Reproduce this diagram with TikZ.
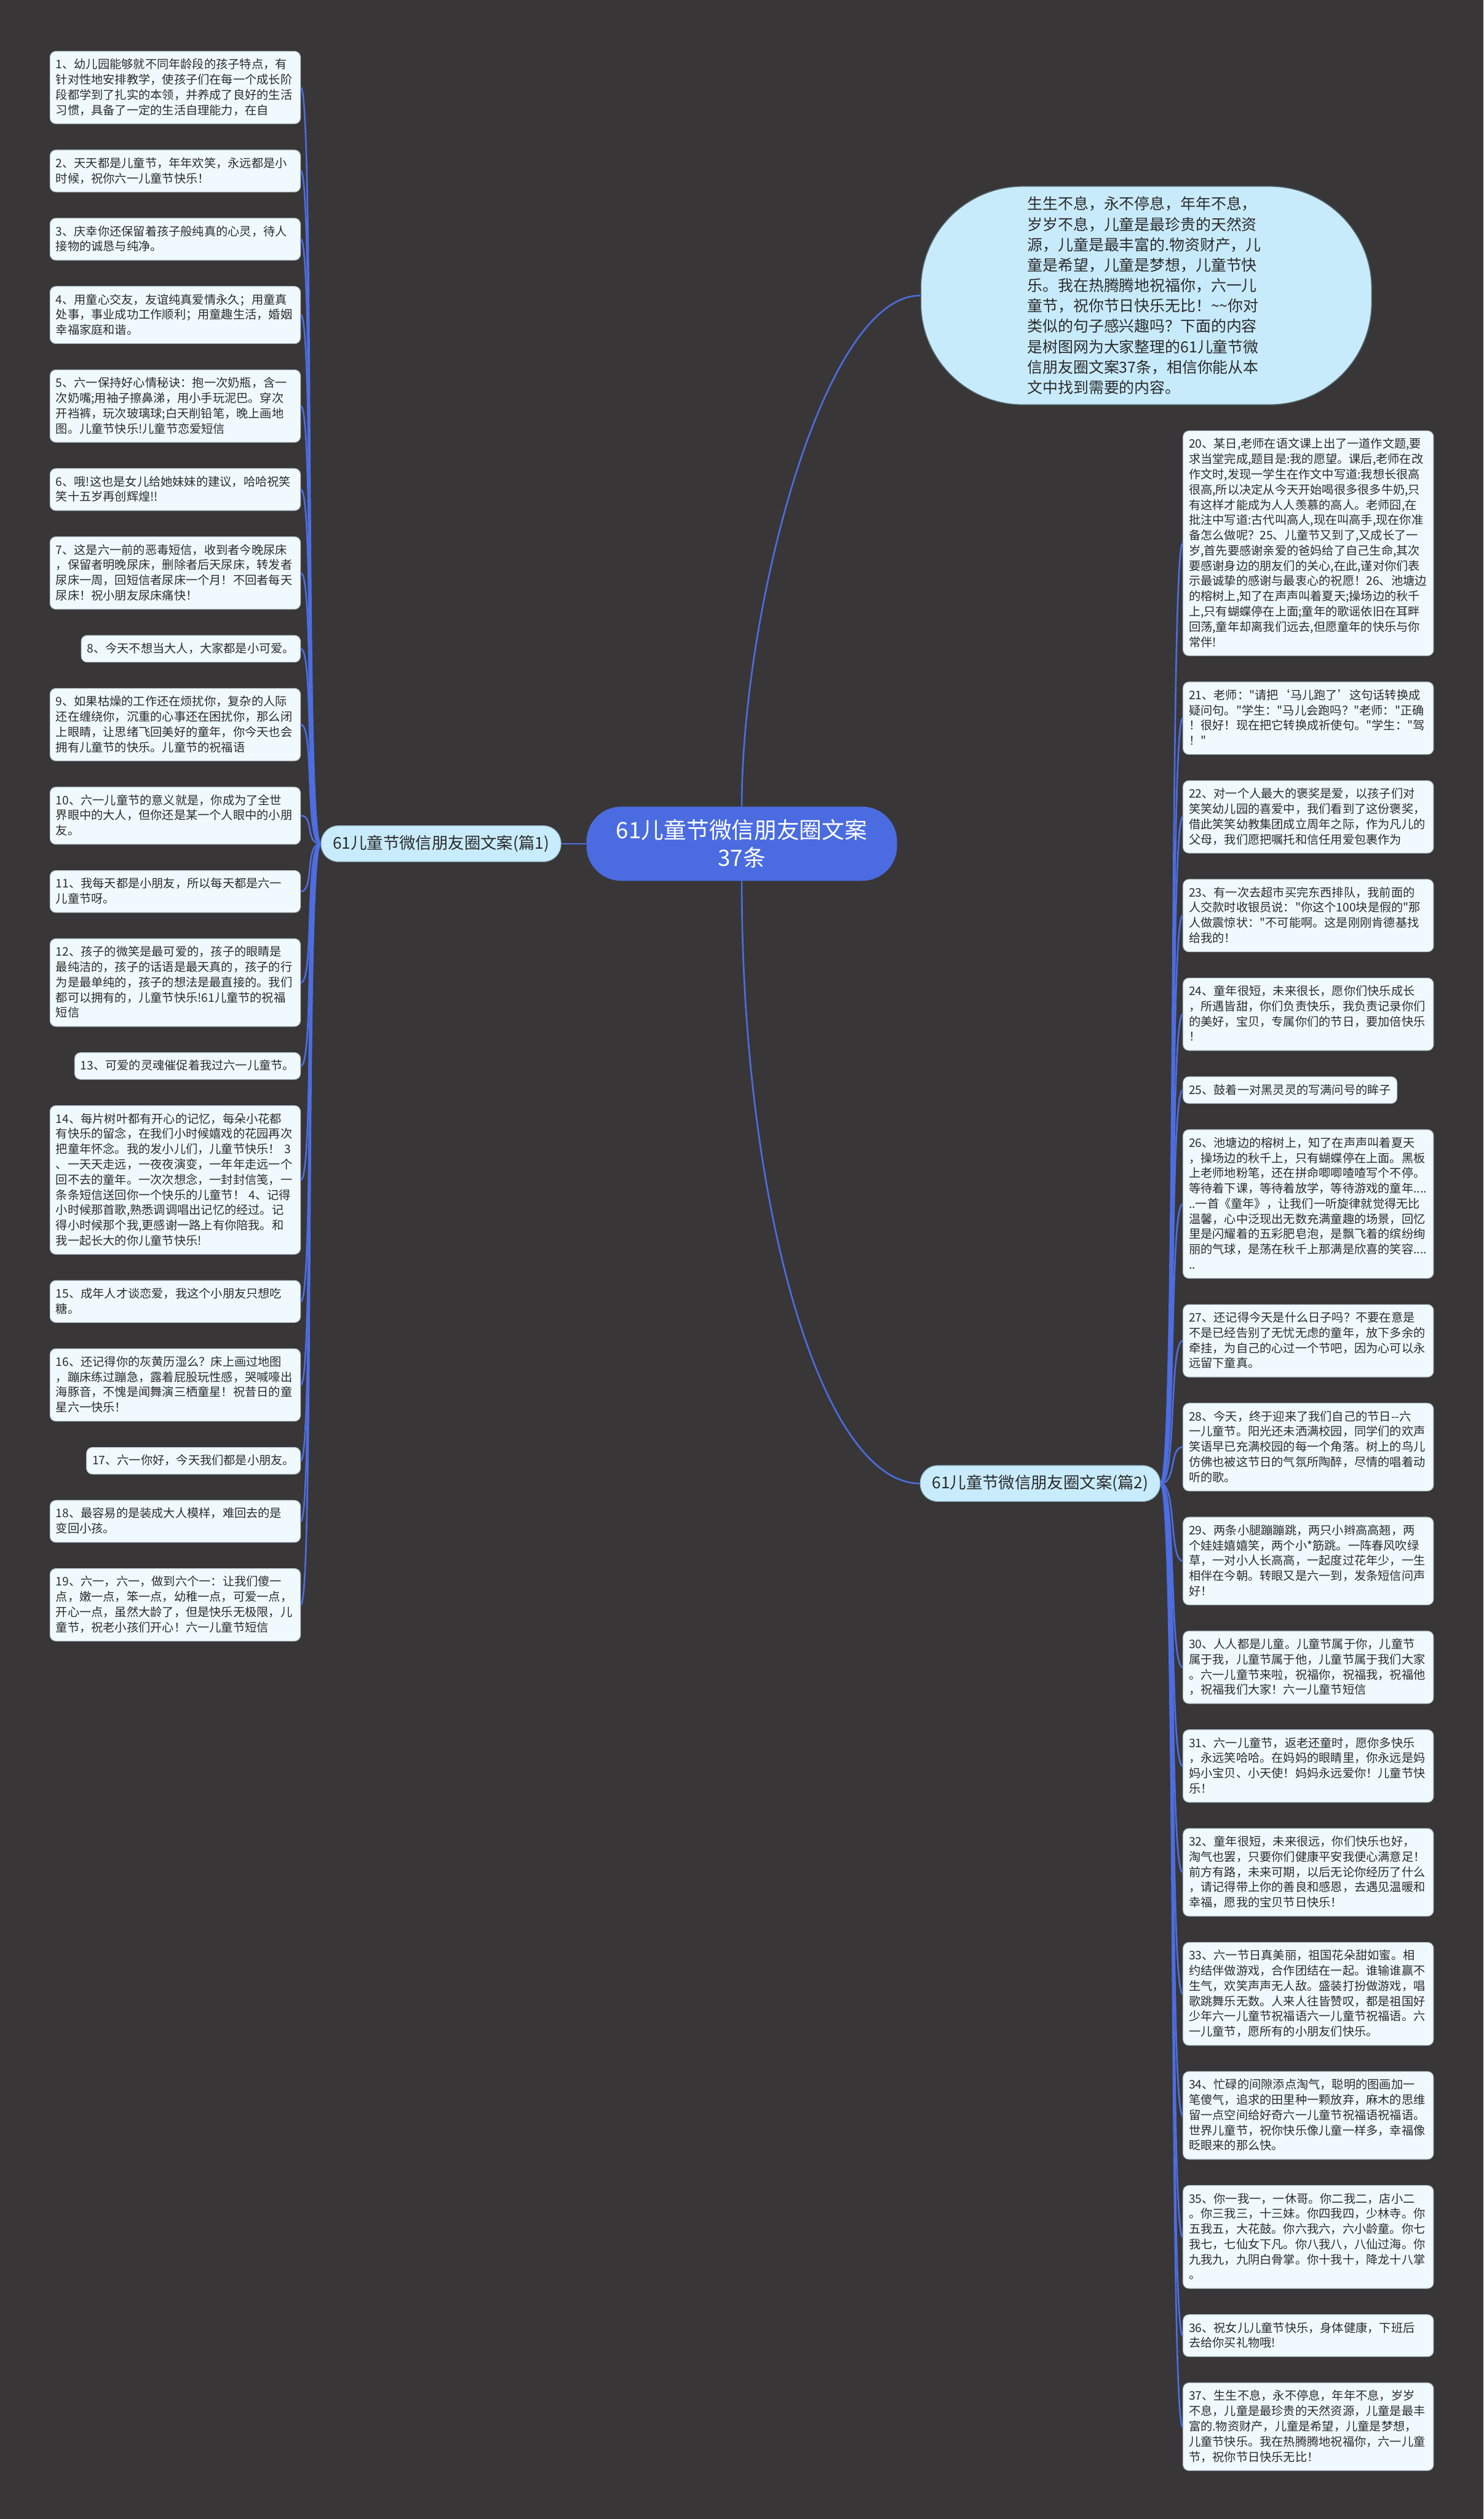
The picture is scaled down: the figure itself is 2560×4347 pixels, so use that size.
\documentclass[tikz,border=0pt]{standalone}
\usepackage{fontspec}
\setmainfont{Noto Sans CJK SC}[Ligatures=TeXOff]
\usepackage{xcolor}
\usepackage{tikz}
\usetikzlibrary{positioning}

\definecolor{bgdark}{HTML}{383637}
\definecolor{leaffill}{HTML}{F0FAFE}
\definecolor{leafline}{HTML}{B8C7CE}
\definecolor{branchfill}{HTML}{C9ECFC}
\definecolor{branchline}{HTML}{8DB3C4}
\definecolor{rootfill}{HTML}{4A6CE0}
\definecolor{linkblue}{HTML}{4D6DE0}
\definecolor{bubblefill}{HTML}{C8EBFB}
\definecolor{bubbleline}{HTML}{55666E}
\definecolor{inkdark}{HTML}{2B2B2B}

\begin{document}
\begin{tikzpicture}[x=0.5pt, y=-0.5pt, node distance=22.1pt,
    leaf/.style={rectangle, draw=leafline, line width=0.6pt, fill=leaffill, rounded corners=5pt, text=inkdark, align=left, inner xsep=5pt, inner ysep=6pt, font=\fontsize{10.2pt}{13.15pt}\selectfont, execute at begin node=\rule{0pt}{9pt}, execute at end node=\rule[-2pt]{0pt}{2pt}},
    wideleaf/.style={leaf, text width=206pt},
    branch/.style={rectangle, draw=branchline, line width=0.6pt, fill=branchfill, rounded corners=15pt, text=inkdark, font=\fontsize{14pt}{17pt}\selectfont, minimum width=207pt, minimum height=31pt},
    root/.style={rectangle, fill=rootfill, rounded corners=30pt, text=white, align=center, font=\fontsize{19.5pt}{24pt}\selectfont, minimum width=268pt, minimum height=64pt},
    bubble/.style={rectangle, draw=bubbleline, line width=0.8pt, fill=bubblefill, rounded corners=88pt, text=inkdark, align=left, text width=205pt, font=\fontsize{13.2pt}{17.6pt}\selectfont, minimum width=389pt, minimum height=188.5pt},
    link/.style={draw=linkblue, line width=1.4pt}]

    \fill[bgdark] (0,0) rectangle (2560,4347);

    \node [root] (root) at (1280,1456) {61儿童节微信朋友圈文案\\37条};
    \node [branch, left=21.5pt of root] (part1) {61儿童节微信朋友圈文案(篇1)};
    \node [branch] (part2) at (1795,2560) {61儿童节微信朋友圈文案(篇2)};
    \node [bubble] (intro) at (1978,510) {生生不息，永不停息，年年不息，\\岁岁不息，儿童是最珍贵的天然资\\源，儿童是最丰富的.物资财产，儿\\童是希望，儿童是梦想，儿童节快\\乐。我在热腾腾地祝福你，六一儿\\童节，祝你节日快乐无比！\textasciitilde\textasciitilde 你对\\类似的句子感兴趣吗？下面的内容\\是树图网为大家整理的61儿童节微\\信朋友圈文案37条，相信你能从本\\文中找到需要的内容。};

    \node [wideleaf, anchor=north east] (w1) at (519,88) {1、幼儿园能够就不同年龄段的孩子特点，有\\针对性地安排教学，使孩子们在每一个成长阶\\段都学到了扎实的本领，并养成了良好的生活\\习惯，具备了一定的生活自理能力，在自};
    \node [wideleaf, below=of w1.south east, anchor=north east] (w2) {2、天天都是儿童节，年年欢笑，永远都是小\\时候，祝你六一儿童节快乐！};
    \node [wideleaf, below=of w2.south east, anchor=north east] (w3) {3、庆幸你还保留着孩子般纯真的心灵，待人\\接物的诚恳与纯净。};
    \node [wideleaf, below=of w3.south east, anchor=north east] (w4) {4、用童心交友，友谊纯真爱情永久；用童真\\处事，事业成功工作顺利；用童趣生活，婚姻\\幸福家庭和谐。};
    \node [wideleaf, below=of w4.south east, anchor=north east] (w5) {5、六一保持好心情秘诀：抱一次奶瓶，含一\\次奶嘴;用袖子擦鼻涕，用小手玩泥巴。穿次\\开裆裤，玩次玻璃球;白天削铅笔，晚上画地\\图。儿童节快乐!儿童节恋爱短信};
    \node [wideleaf, below=of w5.south east, anchor=north east] (w6) {6、哦!这也是女儿给她妹妹的建议，哈哈祝笑\\笑十五岁再创辉煌!!};
    \node [wideleaf, below=of w6.south east, anchor=north east] (w7) {7、这是六一前的恶毒短信，收到者今晚尿床\\，保留者明晚尿床，删除者后天尿床，转发者\\尿床一周，回短信者尿床一个月！不回者每天\\尿床！祝小朋友尿床痛快！};
    \node [leaf, below=of w7.south east, anchor=north east] (w8) {8、今天不想当大人，大家都是小可爱。};
    \node [wideleaf, below=of w8.south east, anchor=north east] (w9) {9、如果枯燥的工作还在烦扰你，复杂的人际\\还在缠绕你，沉重的心事还在困扰你，那么闭\\上眼睛，让思绪飞回美好的童年，你今天也会\\拥有儿童节的快乐。儿童节的祝福语};
    \node [wideleaf, below=of w9.south east, anchor=north east] (w10) {10、六一儿童节的意义就是，你成为了全世\\界眼中的大人，但你还是某一个人眼中的小朋\\友。};
    \node [wideleaf, below=of w10.south east, anchor=north east] (w11) {11、我每天都是小朋友，所以每天都是六一\\儿童节呀。};
    \node [wideleaf, below=of w11.south east, anchor=north east] (w12) {12、孩子的微笑是最可爱的，孩子的眼睛是\\最纯洁的，孩子的话语是最天真的，孩子的行\\为是最单纯的，孩子的想法是最直接的。我们\\都可以拥有的，儿童节快乐!61儿童节的祝福\\短信};
    \node [leaf, below=of w12.south east, anchor=north east] (w13) {13、可爱的灵魂催促着我过六一儿童节。};
    \node [wideleaf, below=of w13.south east, anchor=north east] (w14) {14、每片树叶都有开心的记忆，每朵小花都\\有快乐的留念，在我们小时候嬉戏的花园再次\\把童年怀念。我的发小儿们，儿童节快乐！~3\\、一天天走远，一夜夜演变，一年年走远一个\\回不去的童年。一次次想念，一封封信笺，一\\条条短信送回你一个快乐的儿童节！~4、记得\\小时候那首歌,熟悉调调唱出记忆的经过。记\\得小时候那个我,更感谢一路上有你陪我。和\\我一起长大的你儿童节快乐!};
    \node [wideleaf, below=of w14.south east, anchor=north east] (w15) {15、成年人才谈恋爱，我这个小朋友只想吃\\糖。};
    \node [wideleaf, below=of w15.south east, anchor=north east] (w16) {16、还记得你的灰黄历湿么？床上画过地图\\，蹦床练过蹦急，露着屁股玩性感，哭喊嚎出\\海豚音，不愧是闻舞演三栖童星！祝昔日的童\\星六一快乐！};
    \node [leaf, below=of w16.south east, anchor=north east] (w17) {17、六一你好，今天我们都是小朋友。};
    \node [wideleaf, below=of w17.south east, anchor=north east] (w18) {18、最容易的是装成大人模样，难回去的是\\变回小孩。};
    \node [wideleaf, below=of w18.south east, anchor=north east] (w19) {19、六一，六一，做到六个一：让我们傻一\\点，嫩一点，笨一点，幼稚一点，可爱一点，\\开心一点，虽然大龄了，但是快乐无极限，儿\\童节，祝老小孩们开心！六一儿童节短信};

    \node [wideleaf, anchor=north west] (w20) at (2041,743) {20、某日,老师在语文课上出了一道作文题,要\\求当堂完成,题目是:我的愿望。课后,老师在改\\作文时,发现一学生在作文中写道:我想长很高\\很高,所以决定从今天开始喝很多很多牛奶,只\\有这样才能成为人人羡慕的高人。老师囧,在\\批注中写道:古代叫高人,现在叫高手,现在你准\\备怎么做呢？25、儿童节又到了,又成长了一\\岁,首先要感谢亲爱的爸妈给了自己生命,其次\\要感谢身边的朋友们的关心,在此,谨对你们表\\示最诚挚的感谢与最衷心的祝愿！26、池塘边\\的榕树上,知了在声声叫着夏天;操场边的秋千\\上,只有蝴蝶停在上面;童年的歌谣依旧在耳畔\\回荡,童年却离我们远去,但愿童年的快乐与你\\常伴!};
    \node [wideleaf, below=of w20.south west, anchor=north west] (w21) {21、老师："请把‘马儿跑了’这句话转换成\\疑问句。"学生："马儿会跑吗？"老师："正确\\！很好！现在把它转换成祈使句。"学生："驾\\！"};
    \node [wideleaf, below=of w21.south west, anchor=north west] (w22) {22、对一个人最大的褒奖是爱，以孩子们对\\笑笑幼儿园的喜爱中，我们看到了这份褒奖，\\借此笑笑幼教集团成立周年之际，作为凡儿的\\父母，我们愿把嘱托和信任用爱包裹作为};
    \node [wideleaf, below=of w22.south west, anchor=north west] (w23) {23、有一次去超市买完东西排队，我前面的\\人交款时收银员说："你这个100块是假的"那\\人做震惊状："不可能啊。这是刚刚肯德基找\\给我的！};
    \node [wideleaf, below=of w23.south west, anchor=north west] (w24) {24、童年很短，未来很长，愿你们快乐成长\\，所遇皆甜，你们负责快乐，我负责记录你们\\的美好，宝贝，专属你们的节日，要加倍快乐\\！};
    \node [leaf, below=of w24.south west, anchor=north west] (w25) {25、鼓着一对黑灵灵的写满问号的眸子};
    \node [wideleaf, below=of w25.south west, anchor=north west] (w26) {26、池塘边的榕树上，知了在声声叫着夏天\\，操场边的秋千上，只有蝴蝶停在上面。黑板\\上老师地粉笔，还在拼命唧唧喳喳写个不停。\\等待着下课，等待着放学，等待游戏的童年....\\..一首《童年》，让我们一听旋律就觉得无比\\温馨，心中泛现出无数充满童趣的场景，回忆\\里是闪耀着的五彩肥皂泡，是飘飞着的缤纷绚\\丽的气球，是荡在秋千上那满是欣喜的笑容....\\..};
    \node [wideleaf, below=of w26.south west, anchor=north west] (w27) {27、还记得今天是什么日子吗？不要在意是\\不是已经告别了无忧无虑的童年，放下多余的\\牵挂，为自己的心过一个节吧，因为心可以永\\远留下童真。};
    \node [wideleaf, below=of w27.south west, anchor=north west] (w28) {28、今天，终于迎来了我们自己的节日-\kern0pt-六\\一儿童节。阳光还未洒满校园，同学们的欢声\\笑语早已充满校园的每一个角落。树上的鸟儿\\仿佛也被这节日的气氛所陶醉，尽情的唱着动\\听的歌。};
    \node [wideleaf, below=of w28.south west, anchor=north west] (w29) {29、两条小腿蹦蹦跳，两只小辫高高翘，两\\个娃娃嬉嬉笑，两个小*筋跳。一阵春风吹绿\\草，一对小人长高高，一起度过花年少，一生\\相伴在今朝。转眼又是六一到，发条短信问声\\好！};
    \node [wideleaf, below=of w29.south west, anchor=north west] (w30) {30、人人都是儿童。儿童节属于你，儿童节\\属于我，儿童节属于他，儿童节属于我们大家\\。六一儿童节来啦，祝福你，祝福我，祝福他\\，祝福我们大家！六一儿童节短信};
    \node [wideleaf, below=of w30.south west, anchor=north west] (w31) {31、六一儿童节，返老还童时，愿你多快乐\\，永远笑哈哈。在妈妈的眼睛里，你永远是妈\\妈小宝贝、小天使！妈妈永远爱你！儿童节快\\乐！};
    \node [wideleaf, below=of w31.south west, anchor=north west] (w32) {32、童年很短，未来很远，你们快乐也好，\\淘气也罢，只要你们健康平安我便心满意足！\\前方有路，未来可期，以后无论你经历了什么\\，请记得带上你的善良和感恩，去遇见温暖和\\幸福，愿我的宝贝节日快乐！};
    \node [wideleaf, below=of w32.south west, anchor=north west] (w33) {33、六一节日真美丽，祖国花朵甜如蜜。相\\约结伴做游戏，合作团结在一起。谁输谁赢不\\生气，欢笑声声无人敌。盛装打扮做游戏，唱\\歌跳舞乐无数。人来人往皆赞叹，都是祖国好\\少年六一儿童节祝福语六一儿童节祝福语。六\\一儿童节，愿所有的小朋友们快乐。};
    \node [wideleaf, below=of w33.south west, anchor=north west] (w34) {34、忙碌的间隙添点淘气，聪明的图画加一\\笔傻气，追求的田里种一颗放弃，麻木的思维\\留一点空间给好奇六一儿童节祝福语祝福语。\\世界儿童节，祝你快乐像儿童一样多，幸福像\\眨眼来的那么快。};
    \node [wideleaf, below=of w34.south west, anchor=north west] (w35) {35、你一我一，一休哥。你二我二，店小二\\。你三我三，十三妹。你四我四，少林寺。你\\五我五，大花鼓。你六我六，六小龄童。你七\\我七，七仙女下凡。你八我八，八仙过海。你\\九我九，九阴白骨掌。你十我十，降龙十八掌\\。};
    \node [wideleaf, below=of w35.south west, anchor=north west] (w36) {36、祝女儿儿童节快乐，身体健康，下班后\\去给你买礼物哦!};
    \node [wideleaf, below=of w36.south west, anchor=north west] (w37) {37、生生不息，永不停息，年年不息，岁岁\\不息，儿童是最珍贵的天然资源，儿童是最丰\\富的.物资财产，儿童是希望，儿童是梦想，\\儿童节快乐。我在热腾腾地祝福你，六一儿童\\节，祝你节日快乐无比！};

    \draw [link] (root.west) -- (part1.east);
    \draw [link] (root.north) .. controls +(0,-330) and +(-170,0) .. (intro.west);
    \draw [link] (root.south) .. controls +(0,560) and +(-170,0) .. (part2.west);
    \foreach \n in {1,...,19}
        \draw [link] (part1.west) .. controls +(-28,0) and +(24,0) .. (w\n.east);
    \foreach \n in {20,...,37}
        \draw [link] (part2.east) .. controls +(28,0) and +(-24,0) .. (w\n.west);
\end{tikzpicture}
\end{document}
